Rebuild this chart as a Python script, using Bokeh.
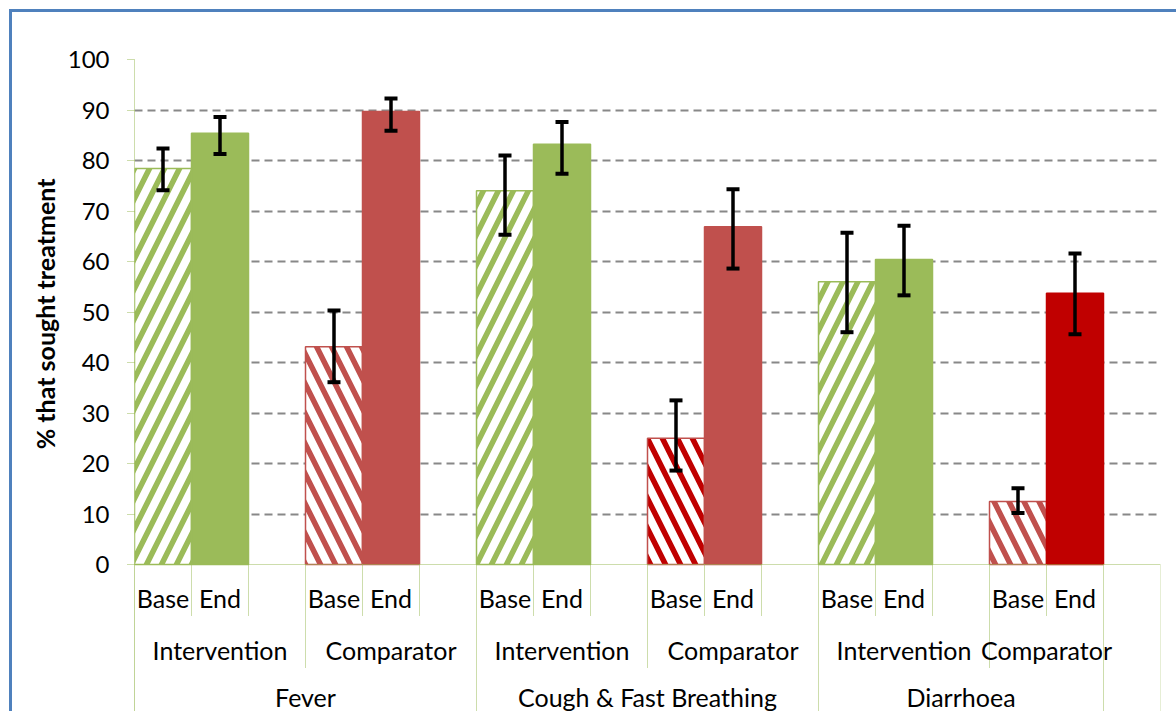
from bokeh.plotting import figure
from bokeh.models import (Range1d, FixedTicker, ColumnDataSource, Whisker, TeeHead,
                          Span, Title)
from bokeh.core.properties import value
from bokeh.embed import file_html
from bokeh.resources import INLINE

# ---------------- data ----------------
diseases = ["Fever", "Cough & Fast Breathing", "Diarrhoea"]
arms = ["Intervention", "Comparator"]
periods = ["Base", "End"]

int_base = [78.4, 74.0, 56.0]
int_base_hi = [82.4, 81.0, 65.7]
int_base_lo = [74.1, 65.3, 46.0]
int_end = [85.4, 83.2, 60.4]
int_end_hi = [88.6, 87.6, 67.1]
int_end_lo = [81.3, 77.4, 53.3]

comp_base = [43.1, 25.0, 12.5]
comp_base_hi = [50.3, 32.5, 15.1]
comp_base_lo = [36.1, 18.6, 10.2]
comp_end = [89.7, 66.9, 53.7]
comp_end_hi = [92.3, 74.3, 61.6]
comp_end_lo = [85.9, 58.6, 45.6]

y_ticks = [0, 10, 20, 30, 40, 50, 60, 70, 80, 90, 100]
y_title = "% that sought treatment"

# ---------------- styles ----------------
GREEN = "#9BBB59"
RED = "#C0504D"
DARK_RED = "#C00000"
BLUE = "#4F81BD"
comp_base_colors = [RED, DARK_RED, RED]
comp_end_colors = [RED, RED, DARK_RED]
FONT = "Lato"

# layout (pixels)
W, H = 1176, 711
LEFT, RIGHT_PX, TOP, ZERO_PX = 134, 1160, 59, 564
PPU = (ZERO_PX - TOP) / 100.0


def py(px):
    return (ZERO_PX - px) / PPU


values = {}
for i, d in enumerate(diseases):
    values[(d, "Intervention", "Base")] = (int_base[i], int_base_hi[i], int_base_lo[i], GREEN, GREEN, True)
    values[(d, "Intervention", "End")] = (int_end[i], int_end_hi[i], int_end_lo[i], GREEN, GREEN, False)
    values[(d, "Comparator", "Base")] = (comp_base[i], comp_base_hi[i], comp_base_lo[i], comp_base_colors[i], RED, True)
    values[(d, "Comparator", "End")] = (comp_end[i], comp_end_hi[i], comp_end_lo[i], comp_end_colors[i], comp_end_colors[i], False)

# category slots (Excel-style: blank slot after each Base/End pair)
slots = []
for di, d in enumerate(diseases):
    for ai, a in enumerate(arms):
        for t in periods:
            slots.append((d, a, t))
        if not (di == len(diseases) - 1 and ai == len(arms) - 1):
            slots.append((d, a, ""))
slots.append(("", "", ""))
N = len(slots)

border_css = (f"linear-gradient({BLUE},{BLUE}) 9px 9px / 3px 100% no-repeat, "
              f"linear-gradient({BLUE},{BLUE}) 9px 9px / 100% 3px no-repeat, white")

p = figure(width=W, height=H, output_backend="svg", toolbar_location=None,
           x_range=Range1d(0, N), y_range=Range1d(py(H), 100),
           x_axis_type=None,
           min_border_left=LEFT, min_border_right=W - RIGHT_PX,
           min_border_top=TOP, min_border_bottom=0,
           styles={"background": border_css})
p.outline_line_color = None
p.background_fill_color = "white"
p.border_fill_color = None

# y axis
ax = p.yaxis[0]
ax.ticker = FixedTicker(ticks=y_ticks)
ax.axis_line_color = GREEN
ax.axis_line_dash = "1 1"
ax.axis_line_width = 1
ax.major_tick_line_color = GREEN
ax.major_tick_line_dash = "1 1"
ax.major_tick_out = 7
ax.major_tick_in = 0
ax.minor_tick_line_color = None
ax.major_label_text_font = FONT
ax.major_label_text_font_size = "24px"
ax.major_label_text_color = "black"
ax.major_label_standoff = 18

# y axis title, centred on the 0-100 value span
p.add_layout(Title(text=y_title, align="right", offset=119, standoff=10,
                   text_font=FONT, text_font_style="bold", text_font_size="25px",
                   text_color="black"), "left")

# grid
g = p.ygrid[0]
g.ticker = FixedTicker(ticks=[t for t in y_ticks if t > 0])
g.grid_line_color = "#888888"
g.grid_line_dash = "8 5"
g.grid_line_width = 2

# bars
hx, htop, hfill, hline, hhatch, hpat = [], [], [], [], [], []
ex, eup, elo = [], [], []
for i, s in enumerate(slots):
    if s in values:
        v, hi, lo, c, lc, hatched = values[s]
        hx.append(i + 0.5)
        htop.append(v)
        hfill.append("white" if hatched else c)
        hline.append(lc if hatched else c)
        hhatch.append(c)
        hpat.append(("right_diagonal_line" if s[1] == "Intervention" else "left_diagonal_line") if hatched else " ")
        ex.append(i + 0.5)
        eup.append(hi)
        elo.append(lo)

bars = ColumnDataSource(dict(x=hx, top=htop, fill=hfill, line=hline, hc=hhatch, hp=hpat))
p.vbar(x="x", top="top", bottom=0, width=1.0, source=bars, fill_color="fill",
       line_color="line", line_width=1.5, hatch_pattern="hp", hatch_color="hc",
       hatch_scale=30, hatch_weight=5.5)

# x axis line at 0
p.add_layout(Span(location=0, dimension="width", line_color=GREEN, line_dash="1 1", line_width=1))

# error bars
err = ColumnDataSource(dict(x=ex, upper=eup, lower=elo))
p.add_layout(Whisker(base="x", upper="upper", lower="lower", source=err, level="overlay",
                     line_color="black", line_width=3.5,
                     upper_head=TeeHead(size=13, line_width=4, line_color="black"),
                     lower_head=TeeHead(size=13, line_width=4, line_color="black")))

# category separators
sep_bottom_px = {1: 615, 2: 667, 3: H + 5}
sx0, sy0, sy1 = [], [], []
for i in range(N + 1):
    if i == 0 or i == N:
        depth = 3
    else:
        a, b = slots[i - 1], slots[i]
        depth = 3 if a[0] != b[0] else (2 if a[1] != b[1] else 1)
    sx0.append(i)
    sy0.append(0)
    sy1.append(py(sep_bottom_px[depth]))
p.segment(x0=sx0, y0=sy0, x1=sx0, y1=sy1, line_color=GREEN, line_dash="1 1", line_width=1)

# category labels
middle_px = [597, 649, 696]
lx, ly, lt = [], [], []
for i, s in enumerate(slots):
    if s[2]:
        lx.append(i + 0.5); ly.append(py(middle_px[0])); lt.append(s[2])


def runs(keyf):
    out = []
    start = 0
    for i in range(1, N + 1):
        if i == N or keyf(slots[i]) != keyf(slots[start]):
            out.append((start, i, keyf(slots[start])))
            start = i
    return out


for st, en, k in runs(lambda s: (s[0], s[1])):
    if k[1]:
        lx.append((st + en) / 2); ly.append(py(middle_px[1])); lt.append(k[1])
for st, en, k in runs(lambda s: s[0]):
    if k:
        lx.append((st + en) / 2); ly.append(py(middle_px[2])); lt.append(k)

p.text(x=lx, y=ly, text=lt, text_font=value(FONT), text_font_size="25px",
       text_align="center", text_baseline="middle", text_color="black")

open("out.html", "w").write(file_html(p, INLINE))
